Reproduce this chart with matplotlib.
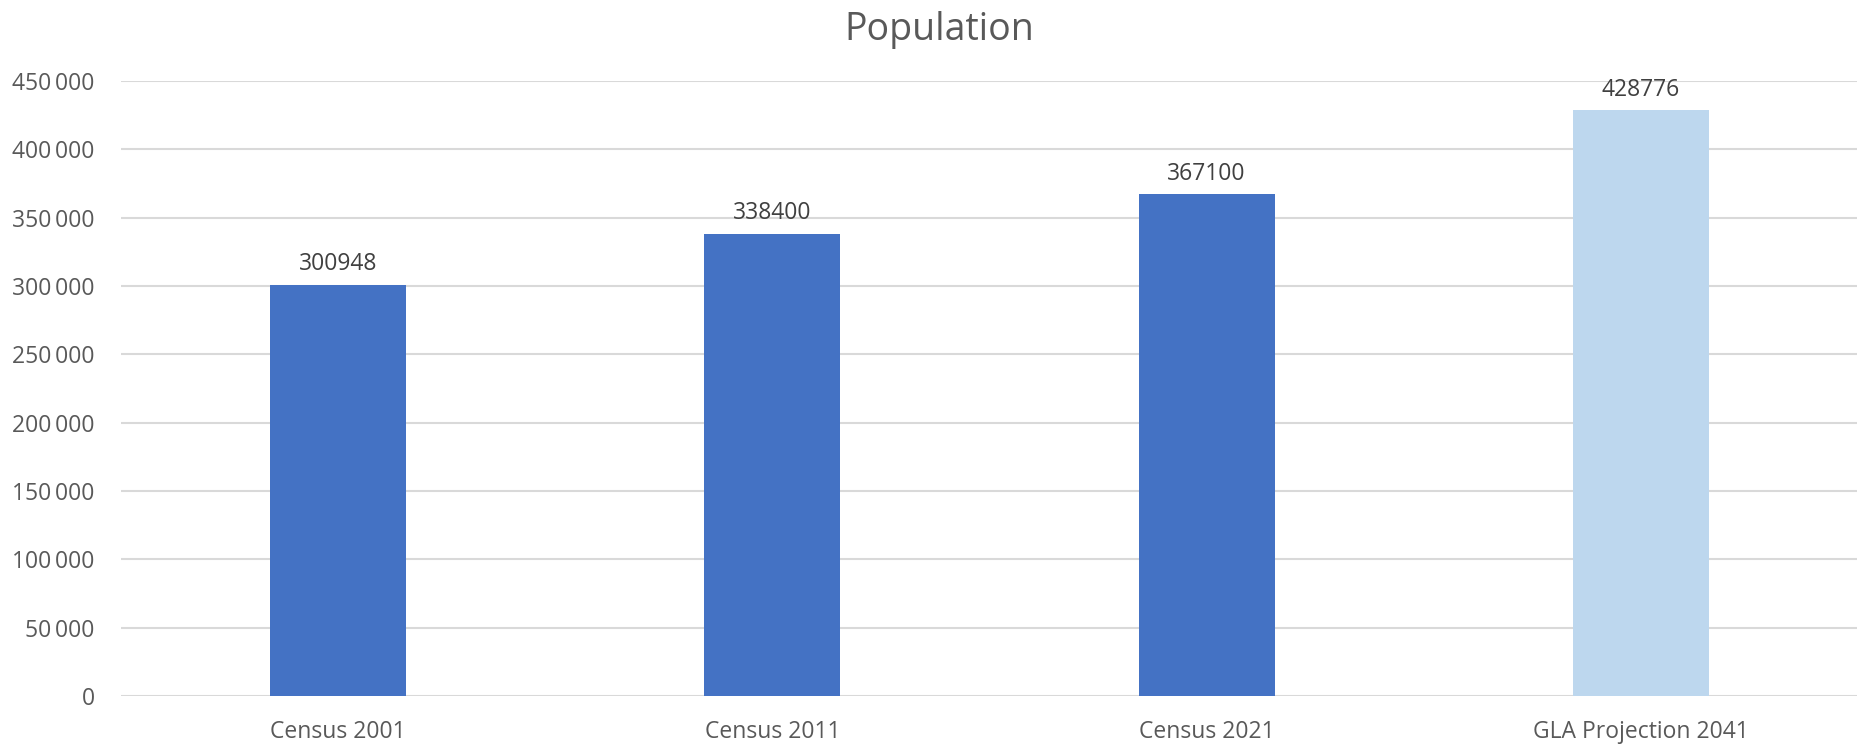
import matplotlib
matplotlib.use("Agg")
import matplotlib.pyplot as plt
from matplotlib.ticker import FuncFormatter

plt.rcParams['font.family'] = ['Open Sans', 'DejaVu Sans']

categories = ["Census 2001", "Census 2011", "Census 2021", "GLA Projection 2041"]
population = [300948, 338400, 367100, 428776]
bar_colors = ["#4472C4", "#4472C4", "#4472C4", "#BDD7EE"]
yticks = [0, 50000, 100000, 150000, 200000, 250000, 300000, 350000, 400000, 450000]

fig = plt.figure(figsize=(18.58, 7.45), dpi=100)
ax = fig.add_axes([121/1858, 1 - 696/745, 1737/1858, (696 - 81)/745])

x = range(len(categories))
bars = ax.bar(x, population, width=0.313, color=bar_colors, zorder=3)
ax.bar_label(bars, labels=[str(v) for v in population], padding=6,
             fontsize=16.5, color="#404040")

ax.set_xlim(-0.5, len(categories) - 0.5)
ax.set_ylim(0, 450000)
ax.set_yticks(yticks)

def fmt(v, pos):
    s = f"{int(v):,}".replace(",", "\u2009")
    return s
ax.yaxis.set_major_formatter(FuncFormatter(fmt))

ax.set_xticks(list(x))
ax.set_xticklabels(categories)
ax.tick_params(axis='both', length=0, labelsize=16.5, colors="#595959")
ax.tick_params(axis='x', pad=17)
ax.tick_params(axis='y', pad=19)

ax.grid(axis='y', color="#D9D9D9", linewidth=1.5, zorder=0)
for s in ax.spines.values():
    s.set_visible(False)

fig.text(0.5 + 10/1858, 1 - 40/745, "Population", ha='center', va='baseline',
         fontsize=27, color="#595959")

fig.savefig("out.png", dpi=100)
